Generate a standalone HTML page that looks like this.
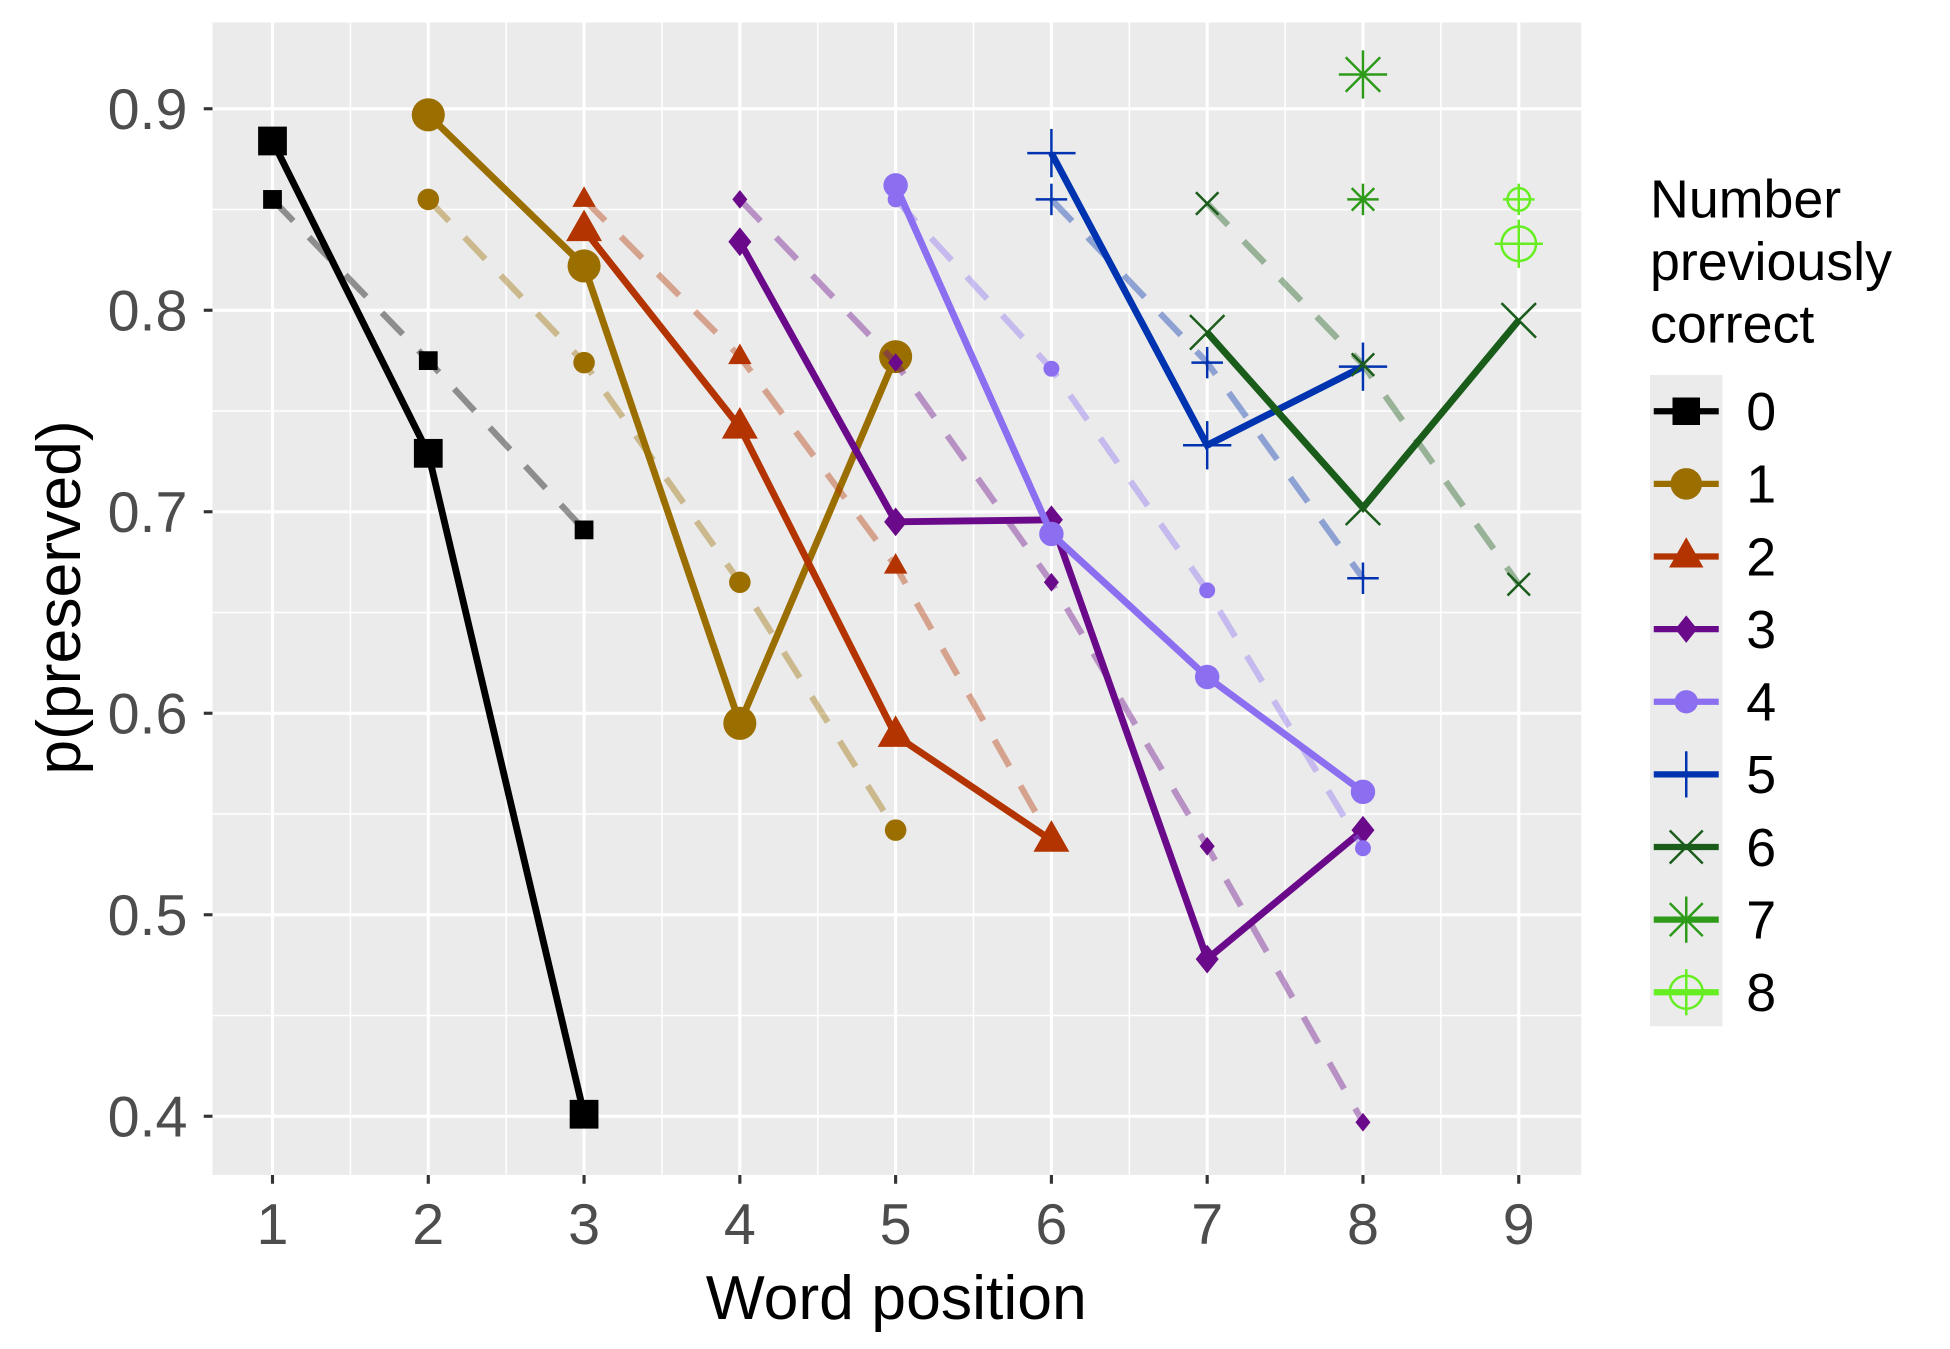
<!DOCTYPE html>
<html><head><meta charset="utf-8"><style>body{margin:0;background:#fff}svg{display:block}text{font-family:"Liberation Sans",sans-serif}</style></head>
<body>
<svg id="chart" width="1950" height="1349" viewBox="0 0 1560 1079.2" xmlns="http://www.w3.org/2000/svg"></svg>
<script>
const groups=["0","1","2","3","4","5","6","7","8"];
const colors=["#000000","#9b6e00","#b33400","#6a0a8a","#8b6ff0","#0033b0","#1a5c1a","#2e9a1a","#66ee22"];
const solidX=[[1,2,3],[2,3,4,5],[3,4,5,6],[4,5,6,7,8],[5,6,7,8],[6,7,8],[7,8,9],[8],[9]];
const solidY=[[0.884,0.729,0.401],[0.897,0.822,0.595,0.777],[0.840,0.742,0.589,0.537],[0.834,0.695,0.696,0.478,0.542],[0.862,0.689,0.618,0.561],[0.878,0.733,0.772],[0.789,0.702,0.795],[0.917],[0.833]];
const dashX=solidX;
const dashY=[[0.855,0.775,0.691],[0.855,0.774,0.665,0.542],[0.855,0.777,0.673,0.537],[0.855,0.774,0.665,0.534,0.397],[0.855,0.771,0.661,0.533],[0.855,0.774,0.667],[0.853,0.773,0.664],[0.855],[0.855]];
const xTicks=[1,2,3,4,5,6,7,8,9];
const yTicks=[0.4,0.5,0.6,0.7,0.8,0.9];
const NS="http://www.w3.org/2000/svg";
const svg=document.getElementById('chart');
const L=170,R=1265,T=18,B=940;
const sx=v=>218+(v-1)*(1215-218)/8;
const sy=v=>87+(0.9-v)*1612;
function el(t,a,p){const e=document.createElementNS(NS,t);for(const k in a)e.setAttribute(k,a[k]);(p||svg).appendChild(e);return e;}
const bg=el('rect',{x:L,y:T,width:R-L,height:B-T,fill:'#ebebeb'});


for(let i=0;i<xTicks.length-1;i++){const x=sx(xTicks[i]+0.5);el('line',{x1:x,x2:x,y1:T,y2:B,stroke:'#fff','stroke-width':1.2});}
for(let v=0.35;v<0.96;v+=0.1){const y=sy(v);if(y>T&&y<B)el('line',{x1:L,x2:R,y1:y,y2:y,stroke:'#fff','stroke-width':1.2});}
xTicks.forEach(t=>{const x=sx(t);el('line',{x1:x,x2:x,y1:T,y2:B,stroke:'#fff','stroke-width':2.5});el('line',{x1:x,x2:x,y1:B,y2:B+7,stroke:'#333','stroke-width':2.5});
const tx=el('text',{x:x,y:995,'font-size':46,fill:'#4d4d4d','text-anchor':'middle'});tx.textContent=t;

});
yTicks.forEach(t=>{const y=sy(t);el('line',{x1:L,x2:R,y1:y,y2:y,stroke:'#fff','stroke-width':2.5});el('line',{x1:L-7,x2:L,y1:y,y2:y,stroke:'#333','stroke-width':2.5});
const tx=el('text',{x:150,y:y+16,'font-size':46,fill:'#4d4d4d','text-anchor':'end'});tx.textContent=t.toFixed(1);

});
function marker(i,x,y,s,op,g){
  const c=colors[i];
  if(i==0)el('rect',{x:x-s,y:y-s,width:2*s,height:2*s,fill:c,opacity:op},g);
  else if(i==1)el('circle',{cx:x,cy:y,r:s*1.15,fill:c,opacity:op},g);
  else if(i==2)el('polygon',{points:`${x},${y-s*1.4} ${x-s*1.25},${y+s*0.8} ${x+s*1.25},${y+s*0.8}`,fill:c,opacity:op},g);
  else if(i==3)el('polygon',{points:`${x},${y-s} ${x+s*0.8},${y} ${x},${y+s} ${x-s*0.8},${y}`,fill:c,opacity:op},g);
  else if(i==4)el('circle',{cx:x,cy:y,r:s*0.85,fill:c,opacity:op},g);
  else{
    const w=s*1.2,sw=2;
    if(i==5||i==7||i==8){el('line',{x1:x-w*1.4,x2:x+w*1.4,y1:y,y2:y,stroke:c,'stroke-width':sw},g);el('line',{x1:x,x2:x,y1:y-w*1.4,y2:y+w*1.4,stroke:c,'stroke-width':sw},g);}
    if(i==6||i==7){el('line',{x1:x-w,x2:x+w,y1:y-w,y2:y+w,stroke:c,'stroke-width':sw},g);el('line',{x1:x-w,x2:x+w,y1:y+w,y2:y-w,stroke:c,'stroke-width':sw},g);}
    if(i==8)el('circle',{cx:x,cy:y,r:w,fill:'none',stroke:c,'stroke-width':sw},g);
  }
}
groups.forEach((gname,i)=>{
  const g=el('g',{});
  
  
  const dp=dashX[i].map((x,j)=>sx(x)+','+sy(dashY[i][j])).join(' ');
  if(dashX[i].length>1){const pl=el('polyline',{points:dp,fill:'none',stroke:colors[i],'stroke-width':5,'stroke-dasharray':'24 18',opacity:0.4},g);
  
  }
  dashX[i].forEach((x,j)=>marker(i,sx(x),sy(dashY[i][j]),7.5,1,g));
  const sp=solidX[i].map((x,j)=>sx(x)+','+sy(solidY[i][j])).join(' ');
  if(solidX[i].length>1){const pl=el('polyline',{points:sp,fill:'none',stroke:colors[i],'stroke-width':5.5},g);
  
  }
  solidX[i].forEach((x,j)=>marker(i,sx(x),sy(solidY[i][j]),11.5,1,g));
});
const xt=el('text',{x:717,y:1055,'font-size':50,fill:'#000','text-anchor':'middle'});xt.textContent='Word position';


const yt=el('text',{x:0,y:0,'font-size':50,fill:'#000','text-anchor':'middle',transform:'translate(64,478) rotate(-90)'});yt.textContent='p(preserved)';


const lt=el('text',{x:1320,y:0,'font-size':43,fill:'#000'});


['Number','previously','correct'].forEach((s,k)=>{const ts=el('tspan',{x:1320,y:174+k*50},lt);ts.textContent=s;});
el('rect',{x:1320,y:300,width:58,height:521,fill:'#ebebeb'});
groups.forEach((gname,i)=>{
  const y=329+i*58.1;
  const g=el('g',{});
  
  
  el('line',{x1:1323,x2:1375,y1:y,y2:y,stroke:colors[i],'stroke-width':5},g);
  marker(i,1349,y,11,1,g);
  const t=el('text',{x:1397,y:y+15,'font-size':43,fill:'#000'},g);t.textContent=gname;
});
</script>
</body></html>
